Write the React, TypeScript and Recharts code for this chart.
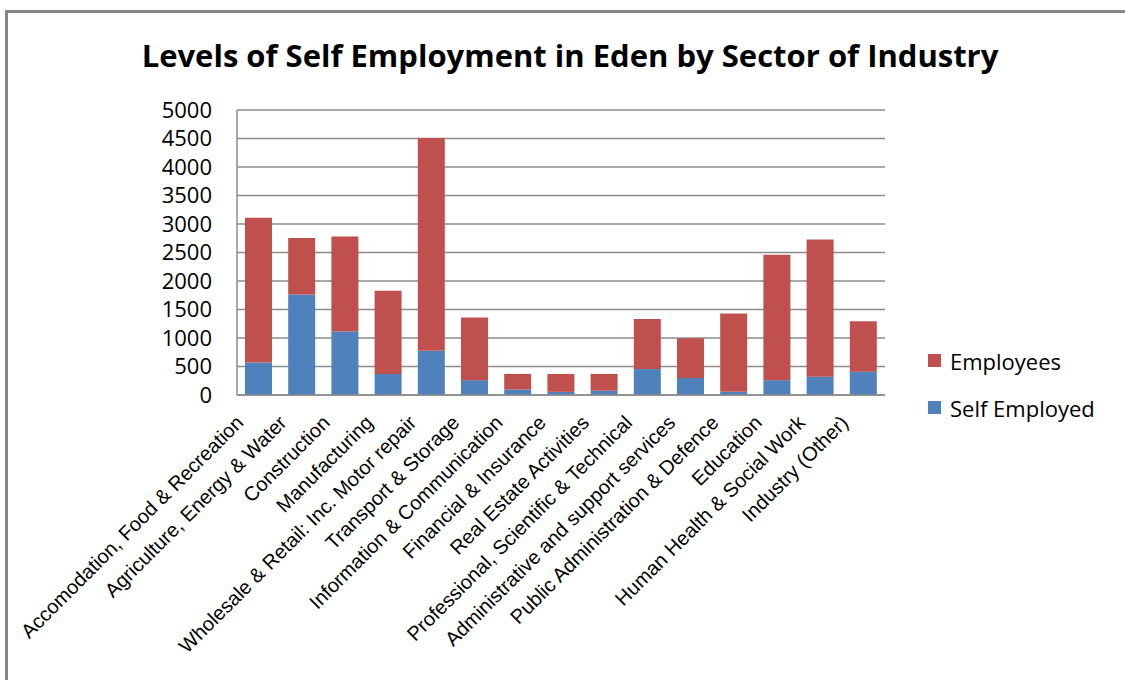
import React from "react";
import { Bar, BarChart, CartesianGrid, XAxis, YAxis } from "recharts";

const categories = [
  "Accomodation, Food & Recreation",
  "Agriculture, Energy & Water",
  "Construction",
  "Manufacturing",
  "Wholesale & Retail: Inc. Motor repair",
  "Transport & Storage",
  "Information & Communication",
  "Financial & Insurance",
  "Real Estate Activities",
  "Professional, Scientific & Technical",
  "Administrative and support services",
  "Public Administration & Defence",
  "Education",
  "Human Health & Social Work",
  "Industry (Other)",
];

const selfEmployed = [570, 1765, 1115, 370, 775, 260, 95, 55, 75, 455, 300, 55, 260, 320, 410];
const employees = [2540, 990, 1665, 1460, 3735, 1100, 275, 315, 295, 880, 695, 1375, 2200, 2410, 885];

const yTicks = [0, 500, 1000, 1500, 2000, 2500, 3000, 3500, 4000, 4500, 5000];

const data = categories.map((name, i) => ({
  name,
  selfEmployed: selfEmployed[i],
  employees: employees[i],
}));

const GRID = "#8c8c8c";
const BLUE = "#4F81BD";
const RED = "#C0504D";

// legend order follows Excel: top series first
const legendItems = [
  { label: "Employees", color: RED },
  { label: "Self Employed", color: BLUE },
];

function CategoryTick(props: any) {
  const { x, y, payload } = props;
  return (
    <g transform={`translate(${x - 14},${y + 21})`}>
      <text
        x={0}
        y={0}
        textAnchor="end"
        transform="rotate(-45)"
        fontFamily="'Liberation Sans', Arial, sans-serif"
        fontSize={20}
        fill="#000"
      >
        {payload.value}
      </text>
    </g>
  );
}

export default function App(): React.ReactElement {
  return (
    <div style={{ position: "fixed", left: 0, top: 0, width: 1125, height: 680, overflow: "hidden", background: "#fff" }}>
      <div
        style={{
          position: "absolute",
          left: 5,
          top: 10,
          width: 1200,
          height: 800,
          border: "3px solid #888",
        }}
      />
      <div
        style={{
          position: "absolute",
          left: 0,
          top: 40,
          width: 1140,
          textAlign: "center",
          fontFamily: "'Open Sans', sans-serif",
          fontWeight: 700,
          fontSize: 31,
          lineHeight: "30px",
          color: "#000",
        }}
      >
        Levels of Self Employment in Eden by Sector of Industry
      </div>
      <div style={{ position: "absolute", left: 0, top: 0 }}>
        <BarChart
          width={1125}
          height={680}
          data={data}
          margin={{ top: 110, right: 240, left: 157, bottom: 0 }}
          barSize={27}
        >
          <CartesianGrid vertical={false} stroke={GRID} strokeWidth={1.5} />
          <XAxis
            dataKey="name"
            interval={0}
            height={285}
            tickLine={false}
            axisLine={{ stroke: GRID, strokeWidth: 1.5 }}
            tick={<CategoryTick />}
          />
          <YAxis
            width={80}
            domain={[0, 5000]}
            ticks={yTicks}
            interval={0}
            tickLine={false}
            tickSize={6}
            tickMargin={19}
            axisLine={{ stroke: GRID, strokeWidth: 1.5 }}
            tick={{ fill: "#000", fontSize: 22, fontFamily: "'Open Sans', sans-serif" }}
          />
          <Bar dataKey="selfEmployed" name="Self Employed" stackId="a" fill={BLUE} isAnimationActive={false} />
          <Bar dataKey="employees" name="Employees" stackId="a" fill={RED} isAnimationActive={false} />
        </BarChart>
      </div>
      <div
        style={{
          position: "absolute",
          left: 928,
          top: 337,
          fontFamily: "'Open Sans', sans-serif",
          fontSize: 22,
          color: "#000",
        }}
      >
        {legendItems.map((it) => (
          <div key={it.label} style={{ display: "flex", alignItems: "center", height: 47 }}>
            <span style={{ width: 13, height: 13, background: it.color, marginRight: 9, display: "inline-block" }} />
            {it.label}
          </div>
        ))}
      </div>
    </div>
  );
}
